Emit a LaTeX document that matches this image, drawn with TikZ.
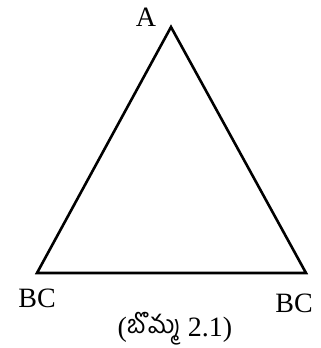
\documentclass[tikz,border=0pt]{standalone}
\usepackage{fontspec}
\setmainfont{Liberation Serif}
\newfontfamily\telugufont[Script=Telugu, Scale=0.9]{Hind Guntur}
\usetikzlibrary{positioning}

\begin{document}
\begin{tikzpicture}[x=1pt, y=-1pt,
    vlabel/.style={font=\fontsize{28}{30}\selectfont, inner sep=0pt, anchor=base}]
  \useasboundingbox (0,0) rectangle (321,348);
  \coordinate (apex) at (171,27);
  \coordinate (left) at (37,273);
  \coordinate (right) at (306,273);
  \draw[line width=2.6pt, line join=miter] (apex) -- (right) -- (left) -- cycle;
  \node[vlabel] (labA) at (146,26) {A};
  \node[vlabel] (labBCl) at (37,307) {BC};
  \node[vlabel] (labBCr) at (294,312) {BC};
  \node[vlabel] (caption) at (175,336) {({\telugufont\raisebox{3pt}{బొమ్మ}} 2.1)};
\end{tikzpicture}
\end{document}
